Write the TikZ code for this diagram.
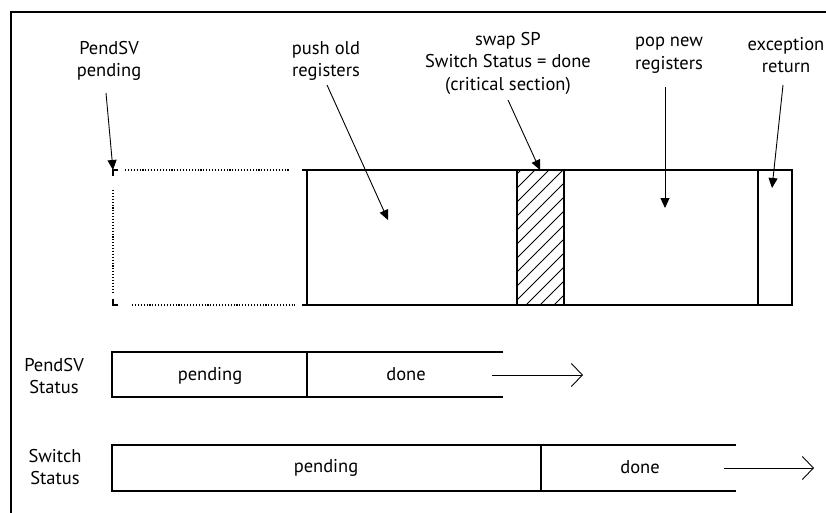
\documentclass[tikz,border=0pt]{standalone}
\usepackage{fontspec}
\setmainfont{PT Sans}
\usetikzlibrary{arrows.meta}
\begin{document}
\begin{tikzpicture}[x=1pt,y=-1pt,
  lbl/.style={align=center,font=\fontsize{18.5}{22.5}\selectfont,inner sep=0pt},
  box/.style={line width=1.3pt},
  dots/.style={line width=1.3pt,dash pattern=on 1.1pt off 1.8pt},
  ptr/.style={line width=0.9pt,-{Triangle[length=10pt,width=9pt]}},
  flow/.style={line width=0.9pt,-{Straight Barb[length=11pt,width=23pt,line width=0.9pt]}}]
\useasboundingbox (0,0) rectangle (826,513);
% frame
\draw[line width=1.2pt] (11,513) -- (11,12) -- (826,12);

% main bar
\draw[box] (302,170) -- (792,170) -- (792,305) -- (302,305);
\draw[box] (307,170) -- (307,305);
\begin{scope}
  \clip (517,170) rectangle (564,305);
  \foreach \y in {174,188,...,370} \draw[line width=0.8pt] (510,\y+7) -- (571,\y-54);
\end{scope}
\draw[box] (517,170) -- (517,305);
\draw[box] (564,170) -- (564,305);
\draw[box] (758,170) -- (758,305);

% dotted region
\draw[dots] (125,170) -- (290,170);
\draw[dots] (132,305) -- (295,305);
\draw[dots] (113,190) -- (113,293);
\draw[line width=1.3pt] (118,170) -- (113,170) -- (113,176);
\draw[line width=1.3pt] (113,299) -- (113,305) -- (118,305);

% top labels
\node[lbl] (lpend) at (109,61) {PendSV\\pending};
\node[lbl] (lpush) at (326,61) {push old\\registers};
\node[lbl] (lswap) at (508,63) {swap SP\\Switch Status = done\\(critical section)};
\node[lbl] (lpop) at (669,55) {pop new\\registers};
\node[lbl] (lexc) at (786,55) {exception\\return};

\coordinate (s1) at (106,93);  \coordinate (e1) at (113,170);
\coordinate (s2) at (327,85);  \coordinate (e2) at (388,220);
\coordinate (s3) at (508,100); \coordinate (e3) at (540,170);
\coordinate (s4) at (665,87);  \coordinate (e4) at (665,208);
\coordinate (s5) at (783,85);  \coordinate (e5) at (772,188);
\draw[ptr] (s1) -- (e1);
\draw[ptr] (s2) -- (e2);
\draw[ptr] (s3) -- (e3);
\draw[ptr] (s4) -- (e4);
\draw[ptr] (s5) -- (e5);

% PendSV status
\node[lbl] (lps) at (54,376) {PendSV\\Status};
\draw[box] (503,352) -- (112,352) -- (112,397) -- (503,397);
\draw[box] (307,352) -- (307,397);
\node[lbl] (ps1) at (210,376) {pending};
\node[lbl] (ps2) at (406,374) {done};
\coordinate (a1) at (492,375); \coordinate (b1) at (583,375);
\draw[flow] (a1) -- (b1);

% Switch status
\node[lbl] (lss) at (55,467) {Switch\\Status};
\draw[box] (736,445) -- (112,445) -- (112,491) -- (736,491);
\draw[box] (541,445) -- (541,491);
\node[lbl] (ss1) at (326,468) {pending};
\node[lbl] (ss2) at (640,467) {done};
\coordinate (a2) at (724,468); \coordinate (b2) at (814,468);
\draw[flow] (a2) -- (b2);
\end{tikzpicture}
\end{document}
